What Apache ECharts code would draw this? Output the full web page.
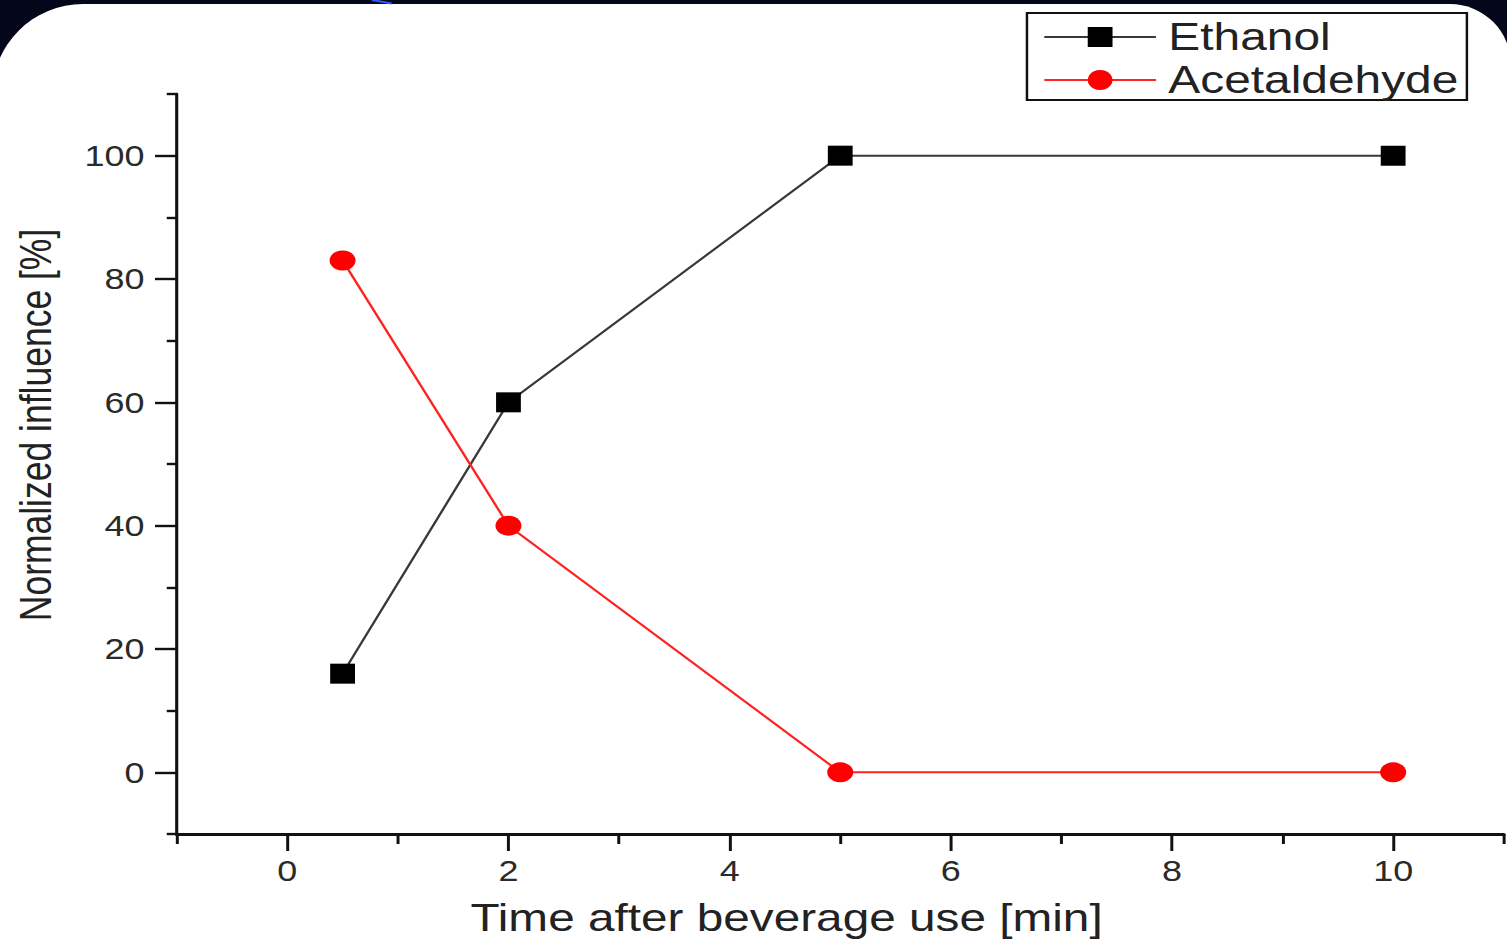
<!DOCTYPE html>
<html>
<head>
<meta charset="utf-8">
<script src="https://cdn.jsdelivr.net/npm/echarts@6/dist/echarts.min.js"></script>
<style>
  html, body { margin: 0; padding: 0; width: 1507px; height: 940px; overflow: hidden; background: #04071a; }
  #card {
    position: absolute; left: -8px; top: 4px; width: 1519px; height: 1000px; background: #ffffff;
    border-top-left-radius: 91px; border-top-right-radius: 61px;
  }
  #glint {
    position: absolute; left: 372px; top: -1px; width: 20px; height: 2px; background: #2b5cff;
    transform: rotate(10deg); transform-origin: 0 0;
  }
  /* the figure is laid out on a narrower canvas and widened horizontally */
  #chart {
    position: absolute; left: 0; top: 0; width: 1215.3px; height: 940px;
    transform: scaleX(1.24); transform-origin: 0 0;
  }
</style>
</head>
<body>
<div id="card"></div>
<div id="glint"></div>
<div id="chart"></div>
<script>
// Time after beverage use [min]
const times = [0.5, 2, 5, 10];
// Normalized influence [%]
const ethanol = [16, 60, 100, 100];
const acetaldehyde = [83, 40, 0, 0];

const seriesNames = ['Ethanol', 'Acetaldehyde'];
const xTitle = 'Time after beverage use [min]';
const yTitle = 'Normalized influence [%]';

const xMajor = [0, 2, 4, 6, 8, 10];
const xMinor = [-1, 1, 3, 5, 7, 9, 11];
const yMajor = [0, 20, 40, 60, 80, 100];
const yMinor = [-10, 10, 30, 50, 70, 90, 110];

const FONT = "'Liberation Sans', Arial, sans-serif";
const INK = '#111';

const chart = echarts.init(document.getElementById('chart'), null, { renderer: 'svg' });

const pairs = (xs, ys) => xs.map((x, i) => [x, ys[i]]);

chart.setOption({
  animation: false,
  backgroundColor: 'transparent',
  grid: { left: 142.5, top: 94, width: 1070.2, height: 740, containLabel: false },
  legend: {
    orient: 'vertical',
    left: 828.2,
    top: 13,
    padding: [4, 7, 0, 13],
    itemWidth: 90,
    itemHeight: 25,
    itemGap: 3,
    borderColor: INK,
    borderWidth: 2,
    borderRadius: 0,
    textStyle: { fontFamily: FONT, fontSize: 38.6, color: '#222', lineHeight: 40, padding: [0, 0, 0, 5] },
    data: seriesNames
  },
  xAxis: [
    {
      type: 'value', min: -1, max: 11, position: 'bottom',
      axisLine: { show: true, onZero: false, lineStyle: { color: INK, width: 3 } },
      axisTick: { show: true, customValues: xMajor, length: 17, lineStyle: { color: INK, width: 2.4 } },
      axisLabel: { show: true, customValues: xMajor, margin: 22, fontFamily: FONT, fontSize: 29, color: '#2a2a2a' },
      splitLine: { show: false }
    },
    {
      type: 'value', min: -1, max: 11, position: 'bottom',
      axisLine: { show: false, onZero: false },
      axisTick: { show: true, customValues: xMinor, length: 10, lineStyle: { color: INK, width: 2.4 } },
      axisLabel: { show: false },
      splitLine: { show: false }
    }
  ],
  yAxis: [
    {
      type: 'value', min: -10, max: 110, position: 'left',
      axisLine: { show: true, onZero: false, lineStyle: { color: INK, width: 2.5 } },
      axisTick: { show: true, customValues: yMajor, length: 17.5, lineStyle: { color: INK, width: 2.4 } },
      axisLabel: { show: true, customValues: yMajor, margin: 26, fontFamily: FONT, fontSize: 29, color: '#2a2a2a' },
      splitLine: { show: false }
    },
    {
      type: 'value', min: -10, max: 110, position: 'left', offset: 0,
      axisLine: { show: false, onZero: false },
      axisTick: { show: true, customValues: yMinor, length: 8, lineStyle: { color: INK, width: 2.4 } },
      axisLabel: { show: false },
      splitLine: { show: false }
    }
  ],
  graphic: [
    {
      type: 'text', x: 29, y: 425, rotation: Math.PI / 2,
      style: { text: yTitle, fontFamily: FONT, fontSize: 35.5, fill: '#222', textAlign: 'center', textVerticalAlign: 'middle' }
    },
    {
      type: 'text', x: 634.3, y: 918,
      style: { text: xTitle, fontFamily: FONT, fontSize: 38.5, fill: '#222', textAlign: 'center', textVerticalAlign: 'middle' }
    }
  ],
  series: [
    {
      name: seriesNames[0], type: 'line', xAxisIndex: 0, yAxisIndex: 0,
      data: pairs(times, ethanol),
      symbol: 'rect', symbolSize: 20,
      lineStyle: { color: '#383838', width: 2 },
      itemStyle: { color: '#000' }
    },
    {
      name: seriesNames[1], type: 'line', xAxisIndex: 0, yAxisIndex: 0,
      data: pairs(times, acetaldehyde),
      symbol: 'circle', symbolSize: [21, 20],
      lineStyle: { color: '#f22', width: 2 },
      itemStyle: { color: '#ff0000' }
    }
  ]
});
</script>
</body>
</html>
